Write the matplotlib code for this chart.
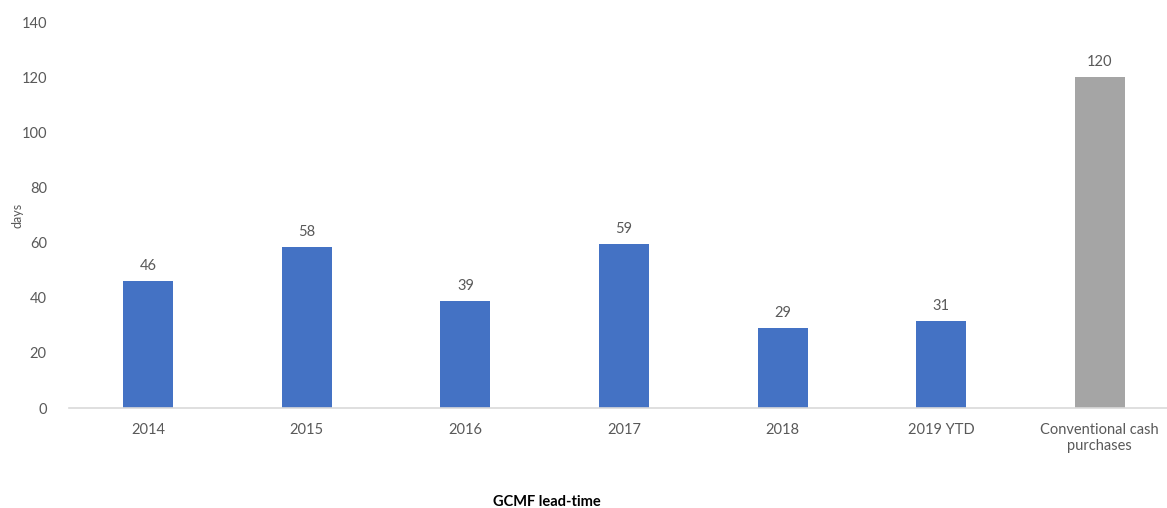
import matplotlib.pyplot as plt

categories = ["2014", "2015", "2016", "2017", "2018", "2019 YTD", "Conventional cash\npurchases"]
lead_days = [46.0, 58.4, 38.8, 59.4, 29.0, 31.4, 120.0]
bar_colors = ["#4472C4"] * 6 + ["#A5A5A5"]

plt.rcParams['font.family'] = ['Lato', 'DejaVu Sans']

fig = plt.figure(figsize=(11.67, 5.08), dpi=100)
ax = fig.add_axes([69 / 1167, 100 / 508, 1110 / 1167, 386 / 508])

x = range(len(categories))
bars = ax.bar(x, lead_days, width=0.315, color=bar_colors)
ax.bar_label(bars, fmt="%.0f", padding=6, fontsize=10.5, color="#595959")

ax.set_xlim(-0.5, len(categories) - 0.5)
ax.set_ylim(0, 140)
ax.set_yticks(range(0, 141, 20))
ax.set_xticks(list(x))
ax.set_xticklabels(categories)
ax.tick_params(axis="both", length=0, labelsize=10.5, labelcolor="#595959")
ax.tick_params(axis="y", pad=16)
ax.tick_params(axis="x", pad=11)

for side in ["top", "right", "left"]:
    ax.spines[side].set_visible(False)
ax.spines["bottom"].set_color("#D9D9D9")
ax.spines["bottom"].set_linewidth(1.2)

fig.text(17 / 1167, 1 - 215 / 508, "days", rotation=90, ha="center", va="center",
         fontsize=9, color="#595959")
fig.text(547 / 1167, 1 - 502 / 508, "GCMF lead-time", ha="center", va="center",
         fontsize=10.5, fontweight="bold", color="#000000")

fig.savefig("out.png", dpi=100)
